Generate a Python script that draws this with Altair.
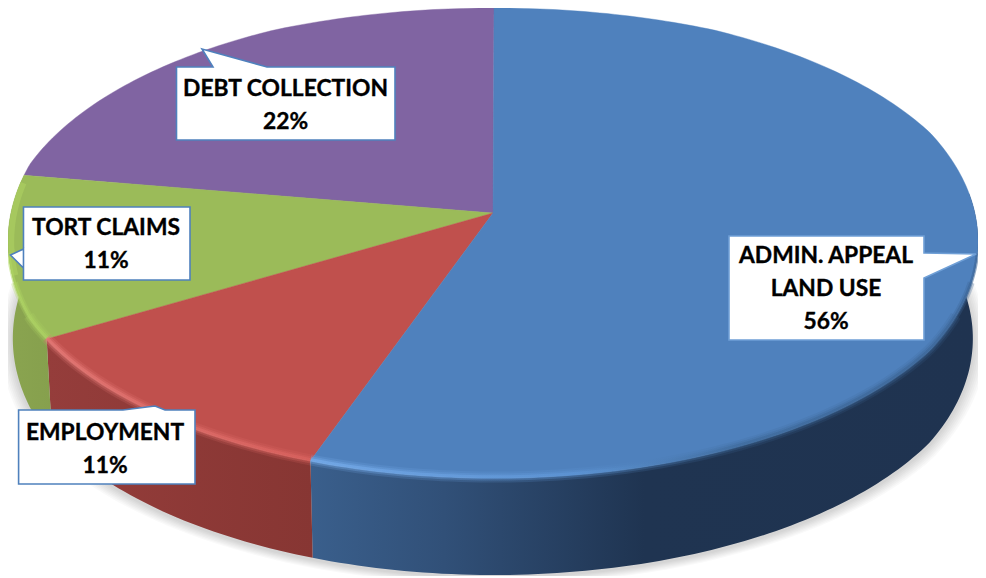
import math
import altair as alt
import pandas as pd

# ---- chart values
categories = ["ADMIN. APPEAL LAND USE", "EMPLOYMENT", "TORT CLAIMS", "DEBT COLLECTION"]
counts = [5, 1, 1, 2]
percent_labels = ["56%", "11%", "11%", "22%"]
label_lines = [["ADMIN. APPEAL", "LAND USE"], ["EMPLOYMENT"], ["TORT CLAIMS"], ["DEBT COLLECTION"]]

# ---- styles
top_colors = ["#4f81bd", "#c0504d", "#9bbb59", "#8064a2"]
FONT = "Lato"
FONT_SIZE = 22.8
LINE_GAP = 33

# ---- layout (in picture pixels; the scales place them on the page)
CX, APEX_Y, TOP_Y, BOT_Y, HALF_W, DEPTH = 494.0, 213.0, 5.0, 478.0, 491.0, 97.0
C = 57 / 473
A = TOP_Y * C + TOP_Y - APEX_Y
R = HALF_W * math.sqrt(1 - C * C)
ANGLE_NUDGE = 0.5
x_scale = alt.Scale(domain=[3, 30, 930, 985], range=[0, 22, 922, 970], nice=False, zero=False)
y_scale = alt.Scale(domain=[575, 30, 5], range=[567, 22, 0], nice=False, zero=False)
boxes = {
    "ADMIN. APPEAL LAND USE": dict(x0=729, x1=924, y0=236, y1=340, tx=826, ty=256,
        pts=[(924, 253), (983, 254), (924, 278)], stroke="#6f9fd6"),
    "EMPLOYMENT": dict(x0=16, x1=195, y0=410, y1=484, tx=105, ty=433,
        pts=[(123, 410), (155, 406), (165, 410)], stroke="#4f81bd"),
    "TORT CLAIMS": dict(x0=22, x1=190, y0=207, y1=280, tx=106, ty=228,
        pts=[(22, 249), (6, 255), (22, 268)], stroke="#4f81bd"),
    "DEBT COLLECTION": dict(x0=176.5, x1=395, y0=67, y1=140, tx=285.5, ty=89,
        pts=[(213, 67), (202, 49), (267, 67)], stroke="#4f81bd"),
}


def edge(deg, shrink=1.0, dy=0.0, grow=0.0):
    t = math.radians(deg)
    u, v = math.sin(t), math.cos(t)
    d = 1 + C * v
    return (CX + (R * shrink + grow) * u / d, (A * v + APEX_Y) / d + dy + grow * -v * 0.48)


def frange(a, b, step=1.0):
    n = max(2, int(abs(b - a) / step) + 1)
    return [a + (b - a) * i / (n - 1) for i in range(n)]


def poly(pts, **mark):
    df = pd.DataFrame({"x": [p[0] for p in pts], "y": [p[1] for p in pts], "i": range(len(pts))})
    return alt.Chart(df).mark_line(interpolate="linear", **mark).encode(
        x=alt.X("x:Q", scale=x_scale, axis=None),
        y=alt.Y("y:Q", scale=y_scale, axis=None),
        order=alt.Order("i:Q"),
    )


def grad(stops):
    return alt.Gradient(gradient="linear", x1=0, x2=1, y1=0, y2=0,
                        stops=[alt.GradientStop(offset=o, color=c) for o, c in stops])


total = sum(counts)
starts, acc = [], 0
for c in counts:
    starts.append(acc / total * 360 - (ANGLE_NUDGE if acc else 0))
    acc += c
ends = starts[1:] + [360.0]

layers = []
# soft shadow under the pie
for k in range(7, 0, -1):
    pts = [edge(a, 0.988, DEPTH + 2, grow=k * 2.2) for a in frange(0, 360, 2)]
    layers.append(poly(pts + pts[:1], fill="#000000", fillOpacity=0.022, strokeWidth=0))

# side walls
side_fill = [
    grad([(0, "#3a5f8c"), (0.2, "#315078"), (0.5, "#1f3451"), (1, "#1f3350")]),
    grad([(0, "#953d3b"), (1, "#873633")]),
    grad([(0, "#8aa450"), (1, "#86a04d")]),
]
for idx, (a0, a1) in enumerate([(starts[0], ends[0]), (starts[1], ends[1]), (starts[2], ends[2])]):
    lo = max(a0, 85)
    up = [edge(a) for a in frange(lo, a1)]
    dn = [edge(a, 0.988, DEPTH) for a in frange(a1, lo)]
    pts = up + dn
    layers.append(poly(pts + pts[:1], fill=side_fill[idx], strokeWidth=0))

# top faces
for idx in [3, 2, 1, 0]:
    pts = [(CX - 1, APEX_Y)] + [edge(a) for a in frange(starts[idx], ends[idx])]
    layers.append(poly(pts + pts[:1], fill=top_colors[idx], stroke=top_colors[idx], strokeWidth=0.4))

# bevel highlights on the front rim; the wide bands stop short of the silhouette
rim_styles = [
    grad([(0, "#7db3f2"), (0.4, "#5f97d8"), (0.65, "#3d6898"), (1, "#3a6292")]),
    grad([(0, "#ea7f7c"), (1, "#dd6561")]),
    grad([(0, "#b4dc66"), (0.6, "#aed463"), (1, "#aed463")]),
]
bands = [(11, 0.18, 18), (7, 0.3, 10), (3.5, 0.55, 3)]
for width, op, margin in bands:
    spans = [(97 + margin, ends[0]), (starts[1], ends[1]), (starts[2], 263 - margin)]
    for idx, (a0, a1) in enumerate(spans):
        pts = [edge(a, 1.0, -1.0) for a in frange(a0, a1)]
        layers.append(poly(pts, stroke=rim_styles[idx], strokeWidth=width, opacity=op))
# inset glow where the green slice's rim turns up to the back
glow = [edge(a, 0.992, 0.0) for a in frange(255, ends[2] - 2)]
layers.append(poly(glow, stroke="#aed463", strokeWidth=6, opacity=0.55))

# call-out labels
for name, pct, lines in zip(categories, percent_labels, label_lines):
    b = boxes[name]
    if name.startswith("ADMIN"):
        shape = [(b["x0"], b["y0"]), (b["x1"], b["y0"])] + b["pts"] + [(b["x1"], b["y1"]), (b["x0"], b["y1"])]
    elif name == "TORT CLAIMS":
        shape = [(b["x0"], b["y0"]), (b["x1"], b["y0"]), (b["x1"], b["y1"]), (b["x0"], b["y1"])] + b["pts"]
    else:
        shape = [(b["x0"], b["y0"])] + b["pts"] + [(b["x1"], b["y0"]), (b["x1"], b["y1"]), (b["x0"], b["y1"])]
    layers.append(poly(shape + shape[:2], fill="#ffffff", stroke=b["stroke"], strokeWidth=1.6))
    text_rows = lines + [pct]
    tdf = pd.DataFrame({
        "x": [b["tx"]] * len(text_rows),
        "y": [b["ty"] + LINE_GAP * i for i in range(len(text_rows))],
        "t": text_rows,
    })
    layers.append(alt.Chart(tdf).mark_text(font=FONT, fontWeight="bold", fontSize=FONT_SIZE,
                                           color="#000000", stroke="#000000", strokeWidth=0.35,
                                           baseline="middle", align="center").encode(
        x=alt.X("x:Q", scale=x_scale, axis=None),
        y=alt.Y("y:Q", scale=y_scale, axis=None),
        text="t:N",
    ))

chart = alt.layer(*layers).properties(
    width=970, height=568, padding=0, autosize=alt.AutoSizeParams(type="none"), background="#ffffff",
).configure_view(stroke=None)

chart.save("out.html", embed_options={"renderer": "svg", "actions": False})
